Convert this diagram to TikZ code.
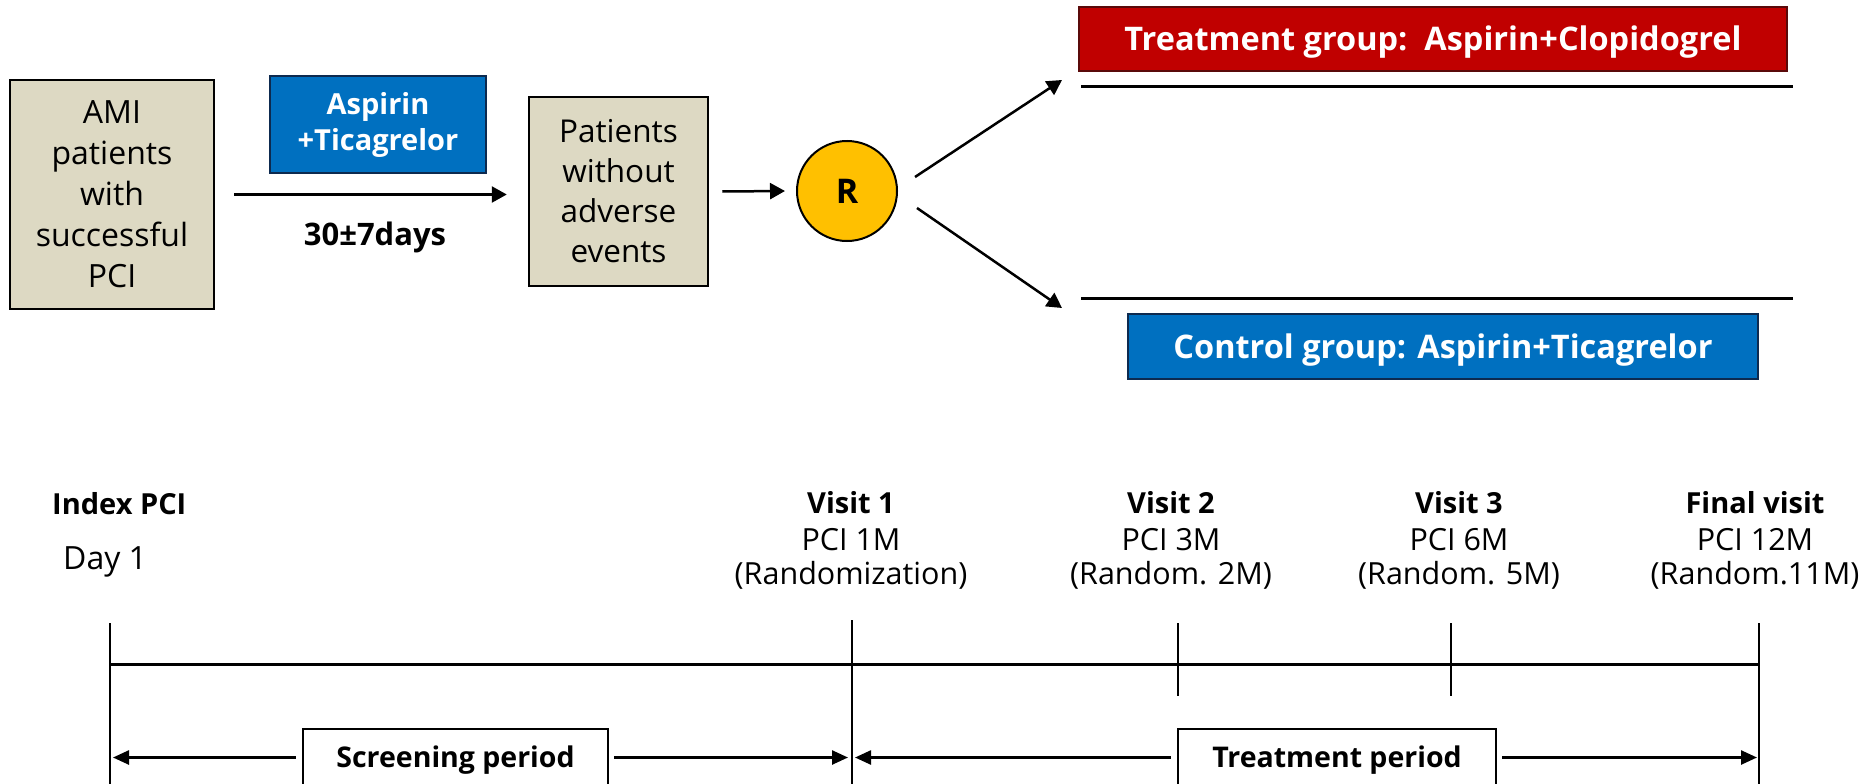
\documentclass[tikz,border=0pt]{standalone}
\usepackage{fontspec}
\setmainfont{Open Sans}
\usetikzlibrary{arrows.meta,calc}
\definecolor{beige}{HTML}{DDD9C3}
\definecolor{mblue}{HTML}{0070C0}
\definecolor{mred}{HTML}{C00000}
\definecolor{myellow}{HTML}{FFC000}
\definecolor{navy}{HTML}{0D2A4F}
\definecolor{dred}{HTML}{5A0A0A}
\newcommand\setfs[2]{\fontsize{#1}{#2}\selectfont}
\newcommand\visitlabel[5]{%
  \node[vbold, anchor=base] (#1a) at (#2,513) {#3};
  \node[vreg, anchor=base] (#1b) at (#2,550) {#4};
  \node[vreg, anchor=base] (#1c) at (#2,584) {#5};}
\begin{document}
\begin{tikzpicture}[x=1pt,y=-1pt,
  beigebox/.style={draw=black, line width=2.5pt, fill=beige, align=center, inner sep=0pt},
  bluebox/.style={draw=navy, line width=2pt, fill=mblue, text=white, align=center, inner sep=0pt},
  redbox/.style={draw=dred, line width=2pt, fill=mred, text=white, inner sep=0pt},
  periodbox/.style={draw=black, line width=2.5pt, fill=white, inner sep=0pt,
     font=\bfseries\setfs{28.5}{34}, text height=20.5pt, text depth=0pt},
  arr/.style={line width=2.5pt, -{Triangle[length=15pt,width=16pt]}},
  barr/.style={line width=2.5pt, -{Triangle[length=16pt,width=14pt]}},
  grpline/.style={line width=3pt},
  mainline/.style={line width=3pt},
  tickline/.style={line width=2pt},
  vbold/.style={font=\bfseries\setfs{29}{36}, inner sep=0pt},
  vreg/.style={font=\setfs{30.5}{36}, inner sep=0pt}
]
\useasboundingbox (0,0) rectangle (1863,784);
\clip (0,0) rectangle (1863,784);

% ---------- top flow ----------
\node[beigebox, minimum width=204pt, minimum height=229pt, font=\setfs{32}{41}] (ami) at (112,194.5)
  {AMI\\patients\\with\\successful\\PCI};
\node[bluebox, minimum width=216pt, minimum height=97pt, font=\bfseries\setfs{29}{36}] (drug) at (378,124.5)
  {Aspirin\\+Ticagrelor};
\node[font=\bfseries\setfs{31}{36}, inner sep=0pt, anchor=base] (days) at (375,245) {30±7days};
\node[beigebox, minimum width=179pt, minimum height=189pt, font=\setfs{31.5}{40}] (pat) at (618.5,191.5)
  {Patients\\without\\adverse\\events};
\node[circle, draw=black, line width=2pt, fill=myellow, minimum size=100pt, inner sep=0pt,
      font=\bfseries\setfs{34}{34}] (R) at (847,191) {R};

\draw[arr] ([xshift=19pt]ami.east) -- ([xshift=-21pt]pat.west |- ami.east);
\draw[arr] ([xshift=13pt]pat.east) -- ([xshift=-11pt]R.west);

\node[redbox, minimum width=708pt, minimum height=64pt, font=\bfseries\setfs{32.5}{36},
      text height=23pt, text depth=0pt] (trt) at (1433,39)
  {Treatment group:\ \ Aspirin+Clopidogrel};
\node[bluebox, minimum width=630pt, minimum height=65pt, font=\bfseries\setfs{32.5}{36},
      text height=23pt, text depth=0pt] (ctl) at (1443,346.5)
  {Control group: Aspirin+Ticagrelor};

\coordinate (ul1) at (1081,86);
\coordinate (ul2) at (1793,86);
\coordinate (ll1) at (1081,298);
\coordinate (ll2) at (1793,298);
\draw[grpline] (ul1) -- (ul2);
\draw[grpline] (ll1) -- (ll2);

\draw[arr] ([shift={(68,-14)}]R.center) -- ([shift={(-19,-6)}]ul1);
\draw[arr] ([shift={(70,17)}]R.center) -- ([shift={(-19,10)}]ll1);

% ---------- timeline ----------
\foreach \x/\n/\a/\b in {110/t0/623/790, 852/t1/620/790, 1178/t2/623/696, 1451/t3/623/696, 1759/t4/623/790}{
  \coordinate (\n) at (\x,664);
  \draw[tickline] (\x,\a) -- (\x,\b);
}
\draw[mainline] (t0) -- (t4);

\node[font=\bfseries\setfs{29}{36}, inner sep=0pt, anchor=base west] (idx) at (52,514) {Index PCI};
\node[font=\setfs{32}{36}, inner sep=0pt, anchor=base west] (day) at (63,569) {Day 1};

\visitlabel{va}{851}{Visit 1}{PCI 1M}{(Randomization)}
\visitlabel{vb}{1171}{Visit 2}{PCI 3M}{(Random. 2M)}
\visitlabel{vc}{1459}{Visit 3}{PCI 6M}{(Random. 5M)}
\visitlabel{vd}{1755}{Final visit}{PCI 12M}{(Random.11M)}

\node[periodbox, minimum width=305pt, minimum height=57pt] (scr) at (455.5,757.5) {Screening period};
\node[periodbox, minimum width=318pt, minimum height=57pt] (tp) at (1337,757.5) {Treatment period};

\draw[barr] ([xshift=-6pt]scr.west) -- ([xshift=3pt]scr.west -| t0);
\draw[barr] ([xshift=5pt]scr.east) -- ([xshift=-4pt]scr.east -| t1);
\draw[barr] ([xshift=-6pt]tp.west) -- ([xshift=3pt]tp.west -| t1);
\draw[barr] ([xshift=5pt]tp.east) -- ([xshift=-2pt]tp.east -| t4);
\end{tikzpicture}
\end{document}
